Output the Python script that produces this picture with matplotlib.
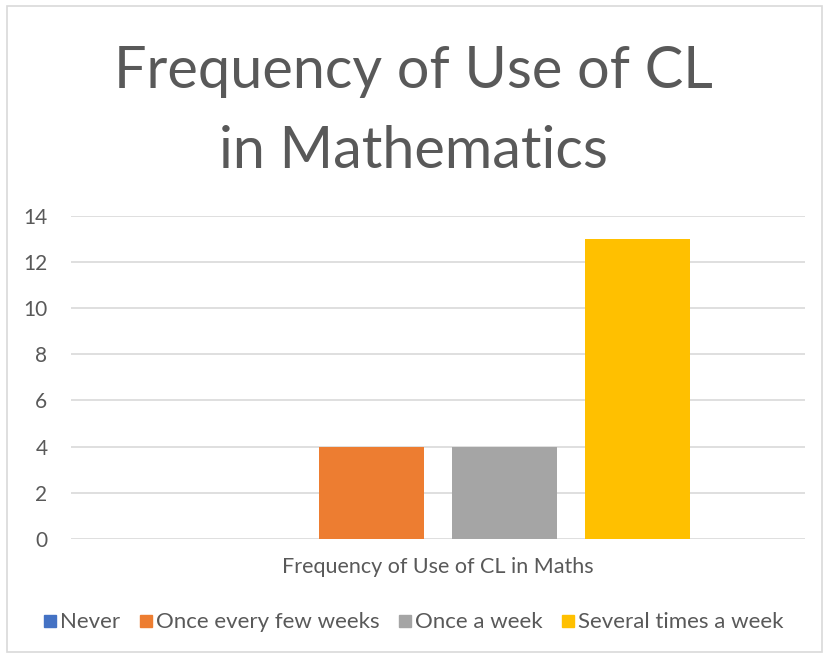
import matplotlib
matplotlib.use("Agg")
import matplotlib.pyplot as plt
from matplotlib.patches import Rectangle
from matplotlib.lines import Line2D

plt.rcParams['font.family'] = ['Lato', 'DejaVu Sans']

series = ["Never", "Once every few weeks", "Once a week", "Several times a week"]
values = [0, 4, 4, 13]
colors = ["#4472c4", "#ed7d31", "#a5a5a5", "#ffc000"]
category = "Frequency of Use of CL in Maths"
yticks = [0, 2, 4, 6, 8, 10, 12, 14]

text_col = "#595959"

fig = plt.figure(figsize=(8.26, 6.58), dpi=100)
fig.patches.append(Rectangle((0.009, 0.009), 0.986, 0.982, transform=fig.transFigure,
                             fill=False, edgecolor="#d9d9d9", linewidth=1.2))

ax = fig.add_axes([0.086, 0.181, 0.8886, 0.4909])
offsets = [-0.2717, -0.0906, 0.0906, 0.2717]
for off, v, c, name in zip(offsets, values, colors, series):
    ax.bar(off, v, width=0.143, color=c, label=name, zorder=3)

ax.set_xlim(-0.5, 0.5)
ax.set_ylim(0, 14)
ax.set_yticks(yticks)
ax.set_xticks([])
ax.grid(axis="y", color="#d9d9d9", linewidth=1.2, zorder=0)
for s in ax.spines.values():
    s.set_visible(False)
ax.tick_params(axis="y", length=0, labelsize=15, labelcolor=text_col, pad=17)
ax.set_xlabel(category, fontsize=15.5, color=text_col, labelpad=13)

fig.text(0.5, 0.831, "Frequency of Use of CL\nin Mathematics", ha="center", va="center",
         fontsize=41.5, color=text_col, linespacing=1.62)

handles = [Line2D([], [], marker="s", linestyle="none", markersize=9,
                  markerfacecolor=c, markeredgecolor=c) for c in colors]
fig.legend(handles, series, loc="center", bbox_to_anchor=(0.5, 0.054), ncol=4,
           frameon=False, fontsize=16, labelcolor=text_col, handletextpad=0.1,
           columnspacing=0.8, handlelength=0.7)

fig.savefig("out.png", dpi=100)
